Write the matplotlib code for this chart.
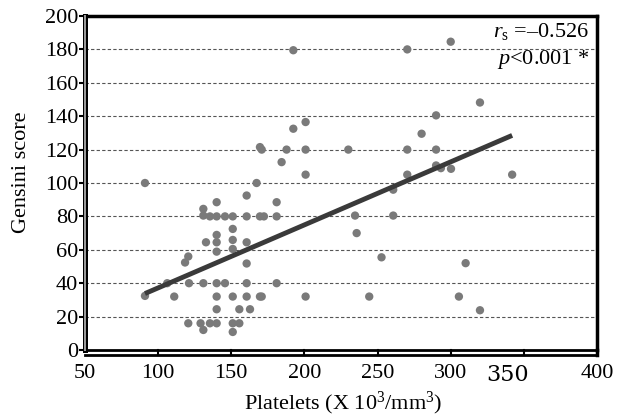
import matplotlib
matplotlib.use("Agg")
import matplotlib.pyplot as plt
from matplotlib.lines import Line2D

platelets = [91, 167.3, 160.5, 140, 130.9, 130.9, 135.4, 140, 145.7, 151, 160.5, 169.6,
             151, 140, 132.7, 140, 151, 160.5, 140, 151, 120.6, 118.4, 160.5,
             106.2, 121.1, 130.9, 140, 145.7, 160.5, 91, 111, 140, 151, 160.5, 169.6,
             140, 155.5, 162.8, 120.6, 129, 135.4, 140, 151, 155.5, 130.9, 151,
             169.6, 192.4, 270.3, 300, 320, 290, 192.4, 200.8, 280.1,
             170.8, 187.8, 200.8, 230, 270.3, 290, 184.4, 290, 293.3, 300.2,
             200.8, 270.3, 342, 181, 172.3, 181, 234.6, 260.7, 260.7, 235.7,
             252.7, 310.2, 181, 170.8, 200.8, 244.3, 305.6, 320]
gensini = [100, 100, 92.5, 88.5, 84.5, 80.5, 80, 80, 80, 80, 80, 80,
           72.5, 68.9, 64.5, 64.5, 65.9, 64.5, 58.9, 60.5, 56, 52.4, 51.8,
           40, 40, 40, 40, 40, 40, 32.4, 32, 32, 32, 32, 32,
           24.4, 24.4, 24.4, 16, 16, 16, 16, 16, 16, 12, 10.8,
           121.5, 179.5, 180, 184.6, 148.2, 140.5, 132.5, 136.5, 129.5,
           120, 120, 120, 120, 120, 120, 112.5, 110.5, 108.9, 108.5,
           105, 105, 105, 88.5, 80, 80, 80.5, 80.5, 96, 70,
           55.5, 52, 40, 32, 32, 32, 32, 23.8]
fit_x = [91, 342]
fit_y = [33.8, 128.5]
xticks = [50, 100, 150, 200, 250, 300, 350, 400]
yticks = [0, 20, 40, 60, 80, 100, 120, 140, 160, 180, 200]
r_text = "$\\mathit{r}_{\\mathrm{s}}$ =–0.526"
p_text = "$\\mathit{p}$<0.001 *"

plt.rcParams['font.family'] = ['Liberation Serif', 'DejaVu Serif']
plt.rcParams['mathtext.fontset'] = 'custom'
plt.rcParams['mathtext.rm'] = 'Liberation Serif'
plt.rcParams['mathtext.it'] = 'Liberation Serif:italic'

fig = plt.figure(figsize=(6.24, 4.2), dpi=100)
W, H = 624, 420
L, R, T, B = 85, 597, 16, 350
ax = fig.add_axes([L / W, 1 - B / H, (R - L) / W, (B - T) / H])
ax.set_xlim(50, 400)
ax.set_ylim(0, 200)

for y in yticks[1:-1]:
    ax.axhline(y, color='#555555', linestyle=(0, (3, 2)), linewidth=0.8, zorder=1)

ax.scatter(platelets, gensini, s=36, color='#7a7a7a', edgecolors='none', zorder=3)
ax.plot(fit_x, fit_y, color='#3a3a3a', linewidth=3.5, solid_capstyle='butt', zorder=4)

for s in ['top', 'right']:
    ax.spines[s].set_linewidth(2.5)
ax.spines['left'].set_visible(False)
ax.spines['bottom'].set_visible(False)

# double left spine (gray filled, black borders)
ax.add_line(Line2D([0, 0], [0, 1], transform=ax.transAxes, color='black',
                   linewidth=5 / 1.389, clip_on=False, zorder=5))
ax.add_line(Line2D([0, 0], [0, 1], transform=ax.transAxes, color='#9a9a9a',
                   linewidth=2 / 1.389, clip_on=False, zorder=6))
# double bottom spine
off = 5 / (B - T)
ax.add_line(Line2D([0, 1], [0, 0], transform=ax.transAxes, color='black',
                   linewidth=2.0, clip_on=False, zorder=5))
ax.add_line(Line2D([0, 1], [-off, -off], transform=ax.transAxes, color='black',
                   linewidth=2.0, clip_on=False, zorder=5))
for xt in xticks[1:-1]:
    ax.plot([xt, xt], [0, -off * 200], color='black', linewidth=1.5,
            clip_on=False, zorder=5)
ax.plot([400, 400], [0, -off * 200], color='black', linewidth=2.5, clip_on=False, zorder=5)

ax.set_xticks(xticks)
ax.set_xticklabels([str(t) if t != 350 else '' for t in xticks])
ax.set_yticks(yticks)
ax.tick_params(axis='x', length=0, pad=10, labelsize=16)
ax.tick_params(axis='y', direction='out', length=4, width=1.5, pad=1, labelsize=16)
ax.text(339, -8.3, '350', fontsize=16, family='DejaVu Serif', ha='center', va='top')

fig.text(343 / W, 1 - 403 / H, 'Platelets (X 10$^{3}$/mm$^{3}$)', fontsize=16,
         ha='center', va='center')
fig.text(22 / W, 1 - 172 / H, 'Gensini score', fontsize=16, rotation=90,
         ha='center', va='center')

ax.text(0.985, 0.985, r_text, fontsize=16, ha='right', va='top', transform=ax.transAxes, zorder=7)
ax.text(0.985, 0.905, p_text, fontsize=16, ha='right', va='top', transform=ax.transAxes, zorder=7)

fig.savefig('out.png', dpi=100)
